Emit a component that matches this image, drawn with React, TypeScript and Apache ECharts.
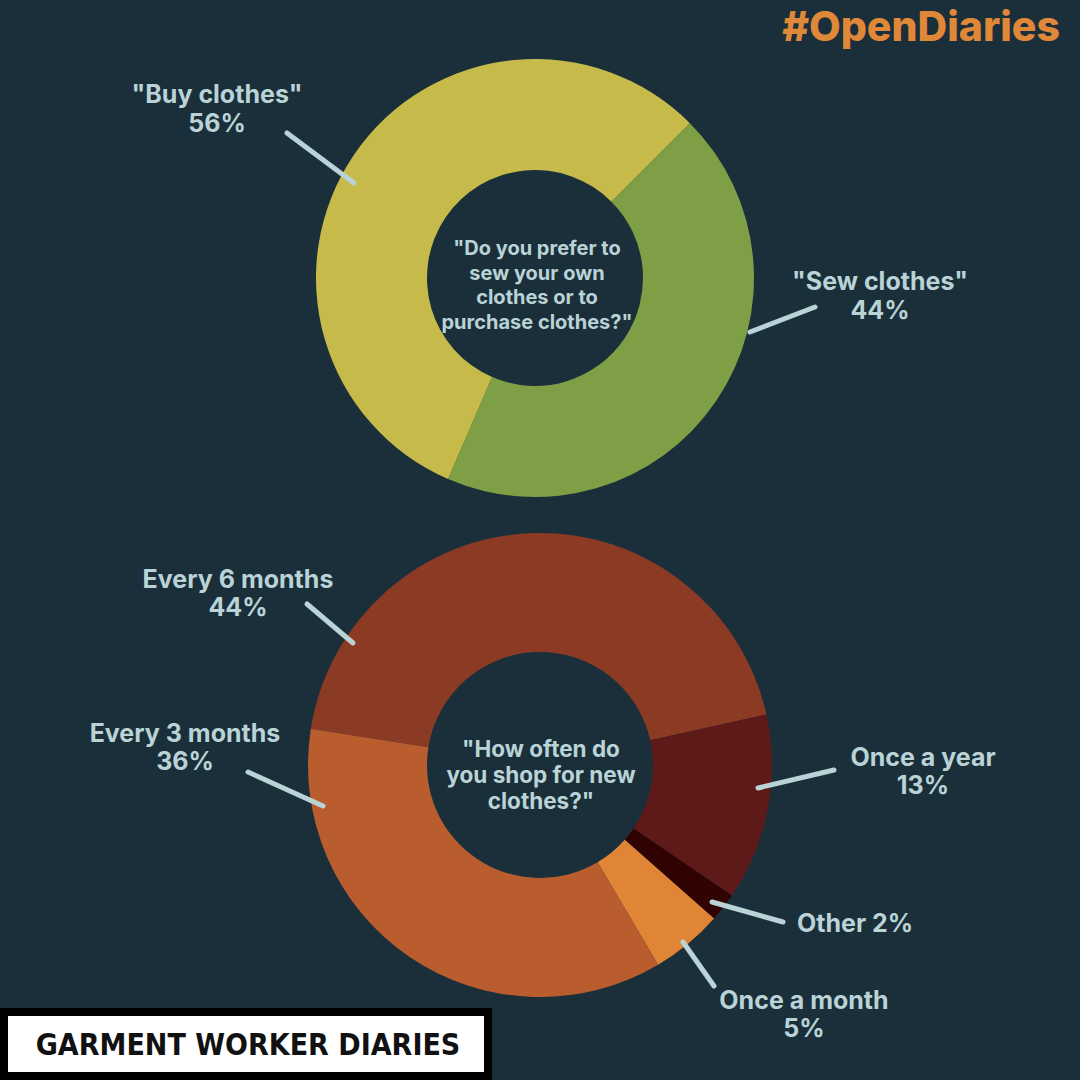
import React, { useEffect, useRef } from "react";
import * as echarts from "echarts";

const BG = "#1b2f3a";
const LABEL = "#b9d3d6";
const FONT = "Inter, 'Libre Franklin', Roboto, sans-serif";

// Top donut: "Do you prefer to sew your own clothes or to purchase clothes?"
const prefNames = ['"Sew clothes"', '"Buy clothes"'];
const prefValues = [44, 56];
const prefColors = ["#7e9f46", "#c6bb4a"];
const prefQuestion = '"Do you prefer to\nsew your own\nclothes or to\npurchase clothes?"';

// Bottom donut: "How often do you shop for new clothes?"
const shopNames = ["Every 6 months", "Once a year", "Other", "Once a month", "Every 3 months"];
const shopValues = [44, 13, 2, 5, 36];
const shopColors = ["#8b3a24", "#5e1a19", "#300202", "#e08536", "#b95c2e"];
const shopQuestion = '"How often do\nyou shop for new\nclothes?"';

// label placement (layout only)
const prefLabelPos = [
  { x: 880, y: 295, align: "center", inline: false, line: [750, 332, 815, 307] },
  { x: 217, y: 108, align: "center", inline: false, line: [287, 133, 354, 183] },
];
const shopLabelPos = [
  { x: 238, y: 593, align: "center", inline: false, line: [307, 604, 353, 643] },
  { x: 923, y: 771, align: "center", inline: false, line: [758, 788, 834, 770] },
  { x: 797, y: 923, align: "left", inline: true, line: [712, 902, 783, 922] },
  { x: 804, y: 1014, align: "center", inline: false, line: [683, 942, 714, 986] },
  { x: 185, y: 747, align: "center", inline: false, line: [248, 772, 323, 806] },
];

function buildLabels(names: string[], values: number[], pos: any[], fontSize: number, lh: number) {
  const out: any[] = [];
  names.forEach((n, i) => {
    const p = pos[i];
    const txt = p.inline ? `${n} ${values[i]}%` : `${n}\n${values[i]}%`;
    out.push({
      type: "line",
      z: 10,
      shape: { x1: p.line[0], y1: p.line[1], x2: p.line[2], y2: p.line[3] },
      style: { stroke: LABEL, lineWidth: 5, lineCap: "round" },
    });
    out.push({
      type: "text",
      z: 10,
      x: p.x,
      y: p.y,
      style: {
        text: txt,
        fill: LABEL,
        font: `700 ${fontSize}px ${FONT}`,
        lineHeight: lh,
        align: p.align,
        verticalAlign: "middle",
      },
    });
  });
  return out;
}

export default function App() {
  const ref = useRef<HTMLDivElement>(null);
  useEffect(() => {
    document.body.style.margin = "0";
    const chart = echarts.init(ref.current!, null, { renderer: "svg" });
    chart.setOption({
      animation: false,
      backgroundColor: BG,
      series: [
        {
          type: "pie",
          center: [535, 278],
          radius: [108, 219],
          startAngle: 45,
          clockwise: true,
          label: { show: false },
          labelLine: { show: false },
          emphasis: { disabled: true },
          data: prefNames.map((n, i) => ({ name: n, value: prefValues[i], itemStyle: { color: prefColors[i] } })),
        },
        {
          type: "pie",
          center: [540, 765],
          radius: [113, 232],
          startAngle: 171,
          clockwise: true,
          label: { show: false },
          labelLine: { show: false },
          emphasis: { disabled: true },
          data: shopNames.map((n, i) => ({ name: n, value: shopValues[i], itemStyle: { color: shopColors[i] } })),
        },
      ],
      graphic: [
        {
          type: "text",
          x: 1060,
          y: 26,
          style: {
            text: "#OpenDiaries",
            fill: "#e0883a",
            font: `800 41px ${FONT}`,
            align: "right",
            verticalAlign: "middle",
          },
        },
        {
          type: "text",
          x: 537,
          y: 285,
          style: {
            text: prefQuestion,
            fill: LABEL,
            font: `700 20px ${FONT}`,
            lineHeight: 24.5,
            align: "center",
            verticalAlign: "middle",
          },
        },
        {
          type: "text",
          x: 541,
          y: 774,
          style: {
            text: shopQuestion,
            fill: LABEL,
            font: `700 22.5px ${FONT}`,
            lineHeight: 26,
            align: "center",
            verticalAlign: "middle",
          },
        },
        ...buildLabels(prefNames, prefValues, prefLabelPos, 25, 29),
        ...buildLabels(shopNames, shopValues, shopLabelPos, 25, 28),
        {
          type: "rect",
          shape: { x: 0, y: 1008, width: 492, height: 72 },
          style: { fill: "#000000" },
        },
        {
          type: "rect",
          shape: { x: 8, y: 1016, width: 476, height: 56 },
          style: { fill: "#ffffff" },
        },
        {
          type: "text",
          x: 248,
          y: 1044,
          style: {
            text: "GARMENT WORKER DIARIES",
            fill: "#111111",
            font: `700 30px 'DejaVu Sans Condensed', 'DejaVu Sans', sans-serif`,
            align: "center",
            verticalAlign: "middle",
          },
        },
      ],
    });
    return () => chart.dispose();
  }, []);
  return <div ref={ref} style={{ width: 1080, height: 1080 }} />;
}
